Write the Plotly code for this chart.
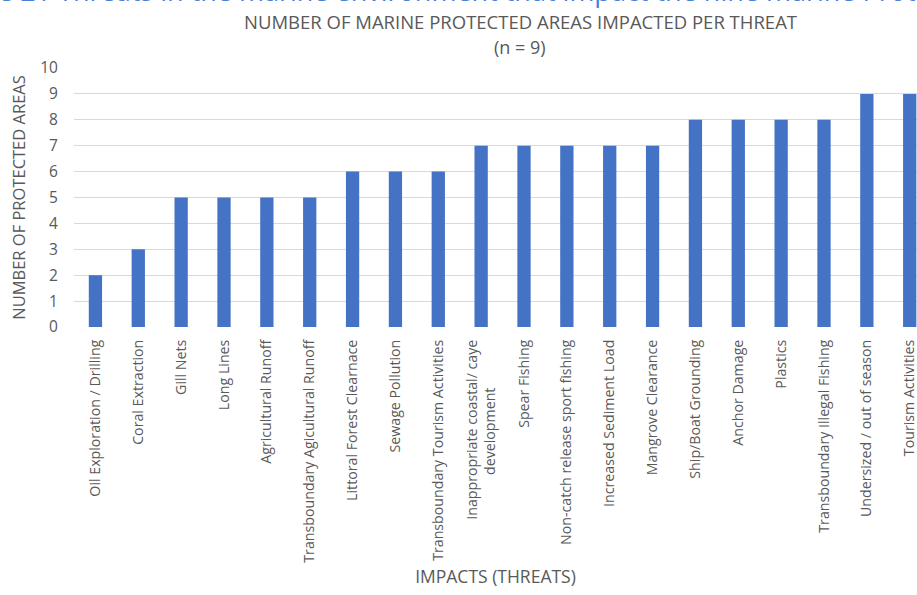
import plotly.graph_objects as go

categories = [
    "Oil Exploration / Drilling", "Coral Extraction", "Gill Nets", "Long Lines",
    "Agricultural Runoff", "Transboundary Agicultural Runoff", "Littoral Forest Clearnace",
    "Sewage Pollution", "Transboundary Tourism Activities",
    "Inappropriate coastal/ caye<br>development" + "\u00a0" * 13, "Spear Fishing",
    "Non-catch release sport fishing", "Increased Sediment Load", "Mangrove Clearance",
    "Ship/Boat Grounding", "Anchor Damage", "Plastics", "Transboundary Illegal Fishing",
    "Undersized / out of season", "Tourism Activities",
]
values = [2, 3, 5, 5, 5, 5, 6, 6, 6, 7, 7, 7, 7, 7, 8, 8, 8, 8, 9, 9]
y_ticks = list(range(0, 11))

W, H = 917, 595
L, R, T, B = 74, 0, 68, 268
pw, ph = W - L - R, H - T - B

def px_x(x):
    return (x - L) / pw

def px_y(y):
    return (H - B - y) / ph

gray = "#595959"
font = "Open Sans"

fig = go.Figure(go.Bar(x=list(range(len(categories))), y=values,
                       marker=dict(color="#4472C4", line=dict(width=0)),
                       width=0.31, cliponaxis=False))

fig.update_layout(
    width=W, height=H,
    margin=dict(l=L, r=R, t=T, b=B, autoexpand=False),
    paper_bgcolor="white", plot_bgcolor="white",
    showlegend=False,
    font=dict(family=font, color=gray, size=13),
    xaxis=dict(
        tickmode="array", tickvals=list(range(len(categories))), ticktext=categories,
        tickangle=-90, range=[-0.5, 19.17], showgrid=False, zeroline=False,
        showline=False, ticks="outside", ticklen=6, tickcolor="rgba(0,0,0,0)",
        ticklabeloverflow="allow",
        tickfont=dict(family=font, size=14.2, color=gray),
        title=dict(text="IMPACTS (THREATS)", font=dict(family=font, size=17.5, color=gray),
                   standoff=9),
        automargin=False,
    ),
    yaxis=dict(
        range=[0, 10], tickvals=y_ticks, showgrid=True, gridcolor="#d9d9d9",
        gridwidth=1, zeroline=False, showline=False, ticks="outside", ticklen=12,
        tickcolor="rgba(0,0,0,0)",
        tickfont=dict(family=font, size=15.5, color=gray),
        title=dict(text="NUMBER OF PROTECTED AREAS",
                   font=dict(family=font, size=16.5, color=gray), standoff=10),
        automargin=False,
    ),
)

fig.add_annotation(xref="paper", yref="paper", x=px_x(520), y=px_y(22),
                   text="NUMBER OF MARINE PROTECTED AREAS IMPACTED PER THREAT",
                   showarrow=False, xanchor="center", yanchor="middle",
                   font=dict(family=font, size=18.5, color=gray))
fig.add_annotation(xref="paper", yref="paper", x=px_x(520), y=px_y(47),
                   text="(n = 9)", showarrow=False, xanchor="center", yanchor="middle",
                   font=dict(family=font, size=18, color=gray))
fig.add_annotation(xref="paper", yref="paper", x=px_x(-4), y=px_y(-9),
                   text="e 21 Threats in the marine environment that impact the nine marine Protected Areas",
                   showarrow=False, xanchor="left", yanchor="middle",
                   font=dict(family=font, size=27, color="#4a7fd6"))

fig.write_html("out.html", config={"displayModeBar": False},
               post_script="document.body.style.margin='0';document.body.style.overflow='hidden';")
